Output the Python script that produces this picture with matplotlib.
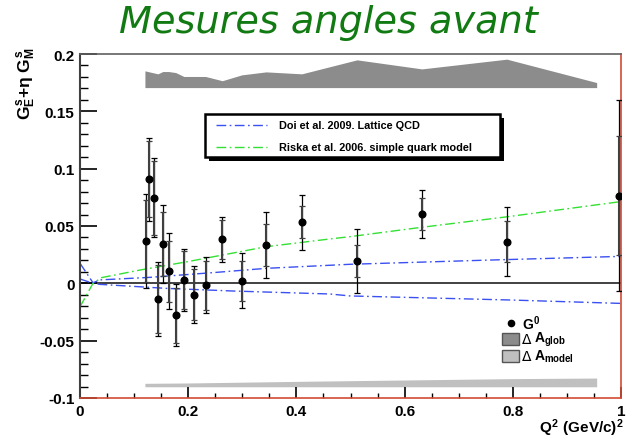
import matplotlib
matplotlib.use('Agg')
import matplotlib.pyplot as plt
from matplotlib.patches import Rectangle
from matplotlib.lines import Line2D

plt.rcParams['font.family'] = ['Liberation Sans', 'DejaVu Sans']
plt.rcParams['font.weight'] = 'bold'
plt.rcParams['mathtext.fontset'] = 'custom'
plt.rcParams['mathtext.rm'] = 'Liberation Sans:bold'
plt.rcParams['mathtext.bf'] = 'Liberation Sans:bold'
plt.rcParams['mathtext.it'] = 'Liberation Sans:bold'

# G0 forward-angle points: Q^2, value, stat error, total error
q2 = [0.122, 0.128, 0.136, 0.144, 0.153, 0.164, 0.177, 0.192, 0.211,
      0.232, 0.263, 0.299, 0.344, 0.410, 0.512, 0.632, 0.789, 0.997]
gs = [0.037, 0.0907, 0.0745, -0.0137, 0.0343, 0.0105, -0.0279, 0.0029, -0.0099,
      -0.0017, 0.0384, 0.0023, 0.0334, 0.0532, 0.0195, 0.0602, 0.0364, 0.0765]
err_stat = [0.036, 0.033, 0.032, 0.030, 0.028, 0.0265, 0.024, 0.0253, 0.022,
            0.0215, 0.017, 0.0175, 0.018, 0.014, 0.014, 0.014, 0.018, 0.052]
err_tot = [0.041, 0.036, 0.0345, 0.032, 0.034, 0.033, 0.027, 0.027, 0.025,
           0.0245, 0.0195, 0.024, 0.0285, 0.0237, 0.028, 0.021, 0.030, 0.083]

# theory curves
doi_up_x = [0.0, 0.024, 0.037, 0.129, 0.253, 0.345, 0.499, 0.75, 1.0]
doi_up_y = [0.0175, 0.0005, 0.003, 0.0052, 0.0096, 0.0131, 0.0166, 0.0202, 0.0235]
doi_lo_x = [0.0, 0.024, 0.037, 0.16, 0.283, 0.462, 0.499, 0.8, 1.0]
doi_lo_y = [0.0038, 0.0, -0.0009, -0.0044, -0.0067, -0.0093, -0.011, -0.0146, -0.0175]
riska_x = [0.0, 0.024, 0.04, 0.111, 0.2, 0.345, 0.462, 0.499, 0.632, 0.789, 1.0]
riska_y = [-0.0205, 0.0, 0.005, 0.0116, 0.019, 0.032, 0.0387, 0.0407, 0.0489, 0.058, 0.0713]

# systematic bands
glob_x = [0.12, 0.144, 0.153, 0.164, 0.177, 0.192, 0.232, 0.263, 0.299,
          0.344, 0.41, 0.512, 0.632, 0.789, 0.955]
glob_top = [0.1853, 0.1827, 0.1847, 0.1847, 0.1838, 0.1804, 0.1804, 0.1767, 0.1818,
            0.1844, 0.1827, 0.1949, 0.187, 0.1955, 0.1751]
glob_base = 0.1707
model_x = [0.12, 0.2, 0.4, 0.6, 0.8, 0.955]
model_top = [-0.0872, -0.0869, -0.0855, -0.0843, -0.0831, -0.0826]
model_base = -0.0902

W, H = 632, 439
fig = plt.figure(figsize=(W / 100, H / 100), dpi=100)
ax = fig.add_axes([80 / W, 40 / H, 541 / W, 344 / H])


def fxy(x, y):
    return x / W, 1 - y / H


ax.fill_between(glob_x, glob_base, glob_top, color='#8c8c8c', lw=0)
ax.fill_between(model_x, model_base, model_top, color='#c0c0c0', lw=0)

ax.axhline(0, color='#333333', lw=1.3, zorder=1)

blue = '#3a50f0'
green = '#33e033'
dashdot = (0, (7, 2.5, 1.2, 2.5))
ax.plot(doi_up_x, doi_up_y, color=blue, lw=1.0, ls=dashdot)
ax.plot(doi_lo_x, doi_lo_y, color=blue, lw=1.0, ls=dashdot)
ax.plot(riska_x, riska_y, color=green, lw=1.0, ls=dashdot)

ax.errorbar(q2, gs, yerr=err_tot, fmt='none', ecolor='black', elinewidth=0.9,
            capsize=2.3, capthick=0.9, zorder=3)
ax.errorbar(q2, gs, yerr=err_stat, fmt='o', color='black', ms=4.8,
            ecolor='#404040', elinewidth=1.5, capsize=2.3, capthick=0.9, zorder=4)

ax.set_xlim(0, 1)
ax.set_ylim(-0.1, 0.2)
ax.set_xticks([0, 0.2, 0.4, 0.6, 0.8, 1.0])
ax.set_xticklabels(['0', '0.2', '0.4', '0.6', '0.8', '1'])
ax.set_xticks([i * 0.05 for i in range(21)], minor=True)
ax.set_yticks([-0.1, -0.05, 0, 0.05, 0.1, 0.15, 0.2])
ax.set_yticklabels(['-0.1', '-0.05', '0', '0.05', '0.1', '0.15', '0.2'])
ax.set_yticks([-0.1 + i * 0.01 for i in range(31)], minor=True)
ax.tick_params(axis='both', which='both', direction='in', top=False, right=False,
               labelsize=11, colors='black')
ax.tick_params(axis='y', which='major', length=12, width=1.2, pad=4)
ax.tick_params(axis='y', which='minor', length=5.8, width=1.0)
ax.tick_params(axis='x', which='major', length=8, width=1.2, pad=4)
ax.tick_params(axis='x', which='minor', length=3.8, width=1.0)
for lab in ax.get_xticklabels() + ax.get_yticklabels():
    lab.set_fontweight('bold')

ax.spines['left'].set_color('#404040')
ax.spines['left'].set_linewidth(1.5)
ax.spines['top'].set_color('#606060')
ax.spines['top'].set_linewidth(1.2)
ax.spines['bottom'].set_color('#d24a32')
ax.spines['bottom'].set_linewidth(1.2)
ax.spines['right'].set_color('#d24a32')
ax.spines['right'].set_linewidth(1.2)

fig.text(*fxy(328, 23), 'Mesures angles avant', color='#127a12', fontsize=27.5,
         style='italic', fontweight='normal', family='DejaVu Sans',
         ha='center', va='center')

fig.text(*fxy(27, 47), r'$G^{s}_{E}{+}\eta\ G^{s}_{M}$', rotation=90,
         fontsize=12.5, ha='center', va='top')
fig.text(*fxy(624, 428), r'$Q^{2}\ (GeV/c)^{2}$', fontsize=11,
         ha='right', va='center')

# theory legend box with shadow
bx0, by0, bx1, by1 = 205, 115, 500, 158
fig.patches.append(Rectangle(fxy(bx0 + 4, by1 + 4), (bx1 - bx0) / W, (by1 - by0) / H,
                             transform=fig.transFigure, facecolor='black',
                             edgecolor='black', lw=0, zorder=5))
fig.patches.append(Rectangle(fxy(bx0, by1), (bx1 - bx0) / W, (by1 - by0) / H,
                             transform=fig.transFigure, facecolor='white',
                             edgecolor='black', lw=1.8, zorder=6))
for yy, col, txt in [(126, blue, 'Doi et al. 2009. Lattice QCD'),
                     (148, green, 'Riska et al. 2006. simple quark model')]:
    x0, y0 = fxy(216, yy)
    x1, _ = fxy(267, yy)
    fig.lines.append(Line2D([x0, x1], [y0, y0], transform=fig.transFigure,
                            color=col, lw=1.0, ls=dashdot, zorder=7))
    fig.text(*fxy(279, yy), txt, fontsize=7.8, ha='left', va='center', zorder=7)

# data / systematics legend
fig.lines.append(Line2D([fxy(511, 324)[0]], [fxy(511, 324)[1]], transform=fig.transFigure,
                        marker='o', color='black', ms=4.5, ls='none'))
fig.text(*fxy(522, 324), r'$G^{0}$', fontsize=10, ha='left', va='center')
for yy, col, sub in [(340, '#8c8c8c', 'glob'), (357, '#c0c0c0', 'model')]:
    fig.patches.append(Rectangle(fxy(502, yy + 6), 17 / W, 12 / H,
                                 transform=fig.transFigure, facecolor=col,
                                 edgecolor='#555555', lw=1.0))
    fig.text(*fxy(522, yy), '\u0394', fontsize=10, fontweight='normal',
             family='DejaVu Sans', ha='left', va='center')
    fig.text(*fxy(534, yy), r'$A_{%s}$' % sub, fontsize=10, ha='left', va='center')

fig.savefig('out.png', dpi=100)
